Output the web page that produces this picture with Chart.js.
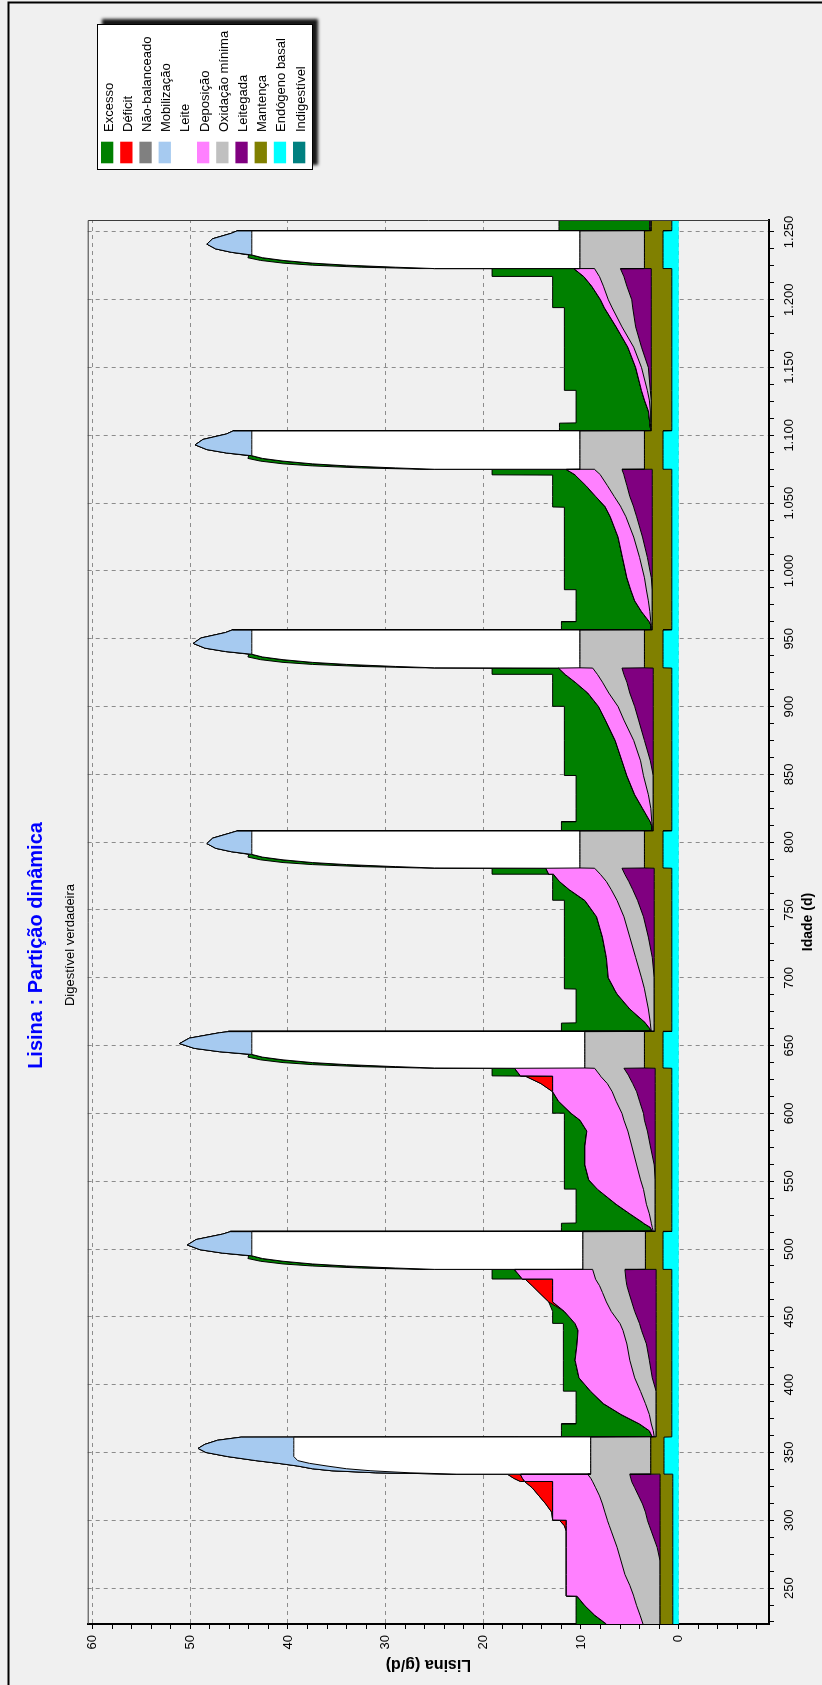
<!DOCTYPE html>
<html>
<head>
<meta charset="utf-8">
<title>Lisina : Partição dinâmica</title>
<script src="https://cdn.jsdelivr.net/npm/chart.js@4.4.1/dist/chart.umd.min.js"></script>
<style>
  html, body { margin: 0; padding: 0; background: #f0f0f0; overflow: hidden; width: 822px; height: 1685px; }
  /* the chart is laid out landscape and turned a quarter turn counter-clockwise */
  #painel { position: absolute; left: 0; top: 0; width: 1685px; height: 822px;
            transform-origin: 0 0; transform: translate(0, 1685px) rotate(-90deg); }
  canvas { display: block; }
</style>
</head>
<body>
<div id="painel"><canvas id="grafico" width="1685" height="822"></canvas></div>
<script>
// ---- Idade (d) ----
const idade = [
  // gestação 1 (leitoa)
  223.5, 230, 237, 244, 244.2, 252, 260, 270, 280, 292, 296, 300, 300.2, 306, 312, 318, 324, 328.4, 328.6, 331, 333.8,
  // lactação 1
  334, 335, 336.5, 338, 340, 342, 344, 347, 350, 353, 356, 359, 361.3,
  // gestação 2
  361.5, 366, 371, 371.2, 378, 386, 395, 395.2, 405, 418, 430, 440, 445, 445.2, 454, 461, 468, 473, 477.7, 477.9, 484.8,
  // lactação 2
  485, 486, 487.5, 489, 491, 493, 495, 497, 499.5, 503, 507, 511, 512.8,
  // gestação 3
  513, 516, 519, 519.2, 526, 533, 544, 544.2, 551, 562, 576, 587, 595, 600, 600.2, 609, 616, 622, 627.5, 627.7, 633.3,
  // lactação 3
  633.5, 634.5, 636, 637.5, 639.5, 641.5, 643.5, 645.5, 648, 651.5, 655.5, 659.5, 660.3,
  // gestação 4
  660.5, 663, 666.6, 666.8, 677, 688, 691.7, 691.9, 700, 715, 730, 745, 757, 757.2, 765, 771, 776.2, 776.4, 780.8,
  // lactação 4
  781, 782, 783.5, 785, 787, 789, 791, 793, 795.5, 799, 803, 807, 808.3,
  // gestação 5
  808.5, 812, 815, 815.2, 825, 835, 849, 849.2, 860, 875, 890, 900, 900.2, 910, 918, 923.6, 923.8, 928.4,
  // lactação 5
  928.6, 929.6, 931.1, 932.6, 934.6, 936.6, 938.6, 940.6, 943.1, 946.6, 950.6, 954.6, 956.5,
  // gestação 6
  956.7, 960, 962.5, 962.7, 970, 978, 986, 986.2, 995, 1010, 1025, 1040, 1047, 1047.2, 1055, 1063, 1070.7, 1070.9, 1074.8,
  // lactação 6
  1075, 1076, 1077.5, 1079, 1081, 1083, 1085, 1087, 1089.5, 1093, 1097, 1101, 1103.3,
  // gestação 7
  1103.5, 1106, 1109, 1109.2, 1118, 1126, 1133, 1133.2, 1150, 1165, 1180, 1194, 1194.2, 1200, 1210, 1217, 1217.2, 1222.8,
  // lactação 7
  1223, 1224, 1225.5, 1227, 1229, 1231, 1233, 1235, 1237.5, 1241, 1245, 1249, 1250.8,
  // pós-desmame
  1251, 1254, 1258.8
];

// ---- Lisina (g/d), one array per fraction, same order as idade ----
const endogenoBasal = [
  0.6,0.6,0.6,0.6,0.6,0.6,0.6,0.6,0.6,0.6,0.6,0.6,0.6,0.6,0.6,0.6,0.6,0.6,0.6,0.6,0.6,
  1.5,1.5,1.5,1.5,1.5,1.5,1.5,1.5,1.5,1.5,1.5,1.5,1.5,
  0.7,0.7,0.7,0.7,0.7,0.7,0.7,0.7,0.7,0.7,0.7,0.7,0.7,0.7,0.7,0.7,0.7,0.7,0.7,0.7,0.7,
  1.6,1.6,1.6,1.6,1.6,1.6,1.6,1.6,1.6,1.6,1.6,1.6,1.6,
  0.7,0.7,0.7,0.7,0.7,0.7,0.7,0.7,0.7,0.7,0.7,0.7,0.7,0.7,0.7,0.7,0.7,0.7,0.7,0.7,0.7,
  1.6,1.6,1.6,1.6,1.6,1.6,1.6,1.6,1.6,1.6,1.6,1.6,1.6,
  0.7,0.7,0.7,0.7,0.7,0.7,0.7,0.7,0.7,0.7,0.7,0.7,0.7,0.7,0.7,0.7,0.7,0.7,0.7,
  1.6,1.6,1.6,1.6,1.6,1.6,1.6,1.6,1.6,1.6,1.6,1.6,1.6,
  0.7,0.7,0.7,0.7,0.7,0.7,0.7,0.7,0.7,0.7,0.7,0.7,0.7,0.7,0.7,0.7,0.7,0.7,
  1.6,1.6,1.6,1.6,1.6,1.6,1.6,1.6,1.6,1.6,1.6,1.6,1.6,
  0.7,0.7,0.7,0.7,0.7,0.7,0.7,0.7,0.7,0.7,0.7,0.7,0.7,0.7,0.7,0.7,0.7,0.7,0.7,
  1.6,1.6,1.6,1.6,1.6,1.6,1.6,1.6,1.6,1.6,1.6,1.6,1.6,
  0.7,0.7,0.7,0.7,0.7,0.7,0.7,0.7,0.7,0.7,0.7,0.7,0.7,0.7,0.7,0.7,0.7,0.7,
  1.6,1.6,1.6,1.6,1.6,1.6,1.6,1.6,1.6,1.6,1.6,1.6,1.6,
  0.7,0.7,0.7
];

const mantenca = [
  1.3,1.3,1.3,1.3,1.3,1.3,1.3,1.3,1.3,1.3,1.3,1.3,1.3,1.3,1.3,1.3,1.3,1.3,1.3,1.3,1.3,
  1.35,1.35,1.35,1.35,1.35,1.35,1.35,1.35,1.35,1.35,1.35,1.35,1.35,
  1.6,1.6,1.6,1.6,1.6,1.6,1.6,1.6,1.6,1.6,1.6,1.6,1.6,1.6,1.6,1.6,1.6,1.6,1.6,1.6,1.6,
  1.8,1.8,1.8,1.8,1.8,1.8,1.8,1.8,1.8,1.8,1.8,1.8,1.8,
  1.7,1.7,1.7,1.7,1.7,1.7,1.7,1.7,1.7,1.7,1.7,1.7,1.7,1.7,1.7,1.7,1.7,1.7,1.7,1.7,1.7,
  1.9,1.9,1.9,1.9,1.9,1.9,1.9,1.9,1.9,1.9,1.9,1.9,1.9,
  1.8,1.8,1.8,1.8,1.8,1.8,1.8,1.8,1.8,1.8,1.8,1.8,1.8,1.8,1.8,1.8,1.8,1.8,1.8,
  1.9,1.9,1.9,1.9,1.9,1.9,1.9,1.9,1.9,1.9,1.9,1.9,1.9,
  1.9,1.9,1.9,1.9,1.9,1.9,1.9,1.9,1.9,1.9,1.9,1.9,1.9,1.9,1.9,1.9,1.9,1.9,
  1.9,1.9,1.9,1.9,1.9,1.9,1.9,1.9,1.9,1.9,1.9,1.9,1.9,
  2.0,2.0,2.0,2.0,2.0,2.0,2.0,2.0,2.0,2.0,2.0,2.0,2.0,2.0,2.0,2.0,2.0,2.0,2.0,
  1.9,1.9,1.9,1.9,1.9,1.9,1.9,1.9,1.9,1.9,1.9,1.9,1.9,
  2.1,2.1,2.1,2.1,2.1,2.1,2.1,2.1,2.1,2.1,2.1,2.1,2.1,2.1,2.1,2.1,2.1,2.1,
  1.9,1.9,1.9,1.9,1.9,1.9,1.9,1.9,1.9,1.9,1.9,1.9,1.9,
  2.1,2.1,2.1
];

const leitegada = [
  0,0,0,0,0,0,0,0,0.3,0.9,1.1,1.3,1.3,1.5,1.8,2.2,2.6,2.9,2.9,3.0,3.1,
  0,0,0,0,0,0,0,0,0,0,0,0,0,
  0,0,0,0,0,0,0,0,0.4,0.7,1.0,1.5,1.7,1.7,2.2,2.5,2.8,3.0,3.1,3.1,3.2,
  0,0,0,0,0,0,0,0,0,0,0,0,0,
  0,0,0,0,0,0,0,0,0,0.1,0.5,0.8,1.1,1.2,1.2,1.6,1.9,2.3,2.7,2.7,3.2,
  0,0,0,0,0,0,0,0,0,0,0,0,0,
  0,0,0,0,0,0,0,0,0,0.2,0.6,1.1,1.7,1.7,2.2,2.6,3.0,3.0,3.3,
  0,0,0,0,0,0,0,0,0,0,0,0,0,
  0,0,0,0,0,0,0,0,0.3,0.9,1.5,1.9,1.9,2.4,2.7,3.0,3.0,3.2,
  0,0,0,0,0,0,0,0,0,0,0,0,0,
  0,0,0,0,0,0,0,0,0.1,0.5,1.0,1.6,1.9,1.9,2.3,2.6,2.9,2.9,3.1,
  0,0,0,0,0,0,0,0,0,0,0,0,0,
  0,0,0,0,0,0,0.1,0.1,0.3,1.0,1.6,1.9,1.9,2.0,2.5,2.8,2.8,3.15,
  0,0,0,0,0,0,0,0,0,0,0,0,0,
  0,0,0
];

const oxidacaoMinima = [
  1.75,2.05,2.4,2.7,2.7,3.1,3.6,4.0,4.1,4.1,4.1,4.1,4.1,4.15,4.1,4.0,4.0,4.0,4.0,4.1,4.3,
  6.15,6.15,6.15,6.15,6.15,6.15,6.15,6.15,6.15,6.15,6.15,6.15,6.15,
  0.2,0.3,0.5,0.5,0.7,1.1,1.6,1.6,1.8,2.0,2.0,1.9,2.0,2.0,2.4,2.6,2.7,2.8,3.1,3.1,3.3,
  6.4,6.4,6.4,6.4,6.4,6.4,6.4,6.4,6.4,6.4,6.4,6.4,6.4,
  0.2,0.3,0.4,0.4,0.6,0.9,1.2,1.2,1.5,1.8,1.9,2.0,2.1,2.2,2.2,2.4,2.5,2.6,2.9,2.9,3.0,
  6.1,6.1,6.1,6.1,6.1,6.1,6.1,6.1,6.1,6.1,6.1,6.1,6.1,
  0.3,0.35,0.4,0.4,0.6,0.9,1.0,1.0,1.3,1.7,1.9,2.0,2.1,2.1,2.2,2.3,2.5,2.5,2.8,
  6.6,6.6,6.6,6.6,6.6,6.6,6.6,6.6,6.6,6.6,6.6,6.6,6.6,
  0.1,0.1,0.15,0.15,0.25,0.5,1.0,1.0,1.0,1.1,1.5,1.7,1.7,2.15,2.5,2.7,2.7,3.0,
  6.6,6.6,6.6,6.6,6.6,6.6,6.6,6.6,6.6,6.6,6.6,6.6,6.6,
  0.1,0.1,0.15,0.15,0.25,0.4,0.6,0.6,0.7,0.8,0.9,1.1,1.3,1.3,1.6,2.0,2.4,2.4,2.8,
  6.6,6.6,6.6,6.6,6.6,6.6,6.6,6.6,6.6,6.6,6.6,6.6,6.6,
  0.05,0.05,0.1,0.1,0.1,0.2,0.3,0.3,0.7,0.8,1.4,2.1,2.1,2.4,2.4,2.5,2.5,2.65,
  6.6,6.6,6.6,6.6,6.6,6.6,6.6,6.6,6.6,6.6,6.6,6.6,6.6,
  0.05,0.05,0.05
];

const deposicao = [
  3.75,4.65,5.3,5.8,6.9,6.5,6.0,5.6,5.2,4.6,4.4,4.2,5.6,5.35,5.1,4.8,4.4,4.1,6.95,7.0,6.9,
  0,0,0,0,0,0,0,0,0,0,0,0,0,
  0.2,0.4,1.2,1.2,2.9,4.3,5.1,5.1,5.7,5.6,5.1,4.6,4.6,4.6,4.8,5.5,5.1,4.8,4.4,7.5,8.0,
  0,0,0,0,0,0,0,0,0,0,0,0,0,
  0.1,0.2,0.8,0.8,2.0,3.1,4.7,4.7,5.3,5.3,4.8,4.2,4.5,5.2,5.2,5.9,6.1,5.6,4.9,8.2,8.2,
  0,0,0,0,0,0,0,0,0,0,0,0,0,
  0.0,0.15,0.5,0.5,1.9,2.9,3.1,3.1,3.4,3.0,2.8,2.8,3.3,3.3,4.3,4.8,4.8,5.3,5.0,
  0,0,0,0,0,0,0,0,0,0,0,0,0,
  0.0,0.05,0.15,0.15,0.85,1.4,1.7,1.7,1.9,1.9,1.9,2.0,2.0,2.15,2.8,3.3,3.3,3.5,
  0,0,0,0,0,0,0,0,0,0,0,0,0,
  0.0,0.05,0.15,0.15,0.85,1.4,1.6,1.6,1.8,1.75,1.6,1.6,1.6,1.6,1.9,2.2,2.6,2.6,2.9,
  0,0,0,0,0,0,0,0,0,0,0,0,0,
  0.0,0.05,0.05,0.05,0.2,0.5,0.6,0.6,0.6,0.6,0.6,0.8,0.8,0.8,1.2,1.6,1.6,2.1,
  0,0,0,0,0,0,0,0,0,0,0,0,0,
  0.05,0.1,0.1
];

const leite = [
  0,0,0,0,0,0,0,0,0,0,0,0,0,0,0,0,0,0,0,0,0,
  13.7,18.5,22.5,25.0,27.0,28.8,30.0,30.4,30.4,30.4,30.4,30.4,30.4,
  0,0,0,0,0,0,0,0,0,0,0,0,0,0,0,0,0,0,0,0,0,
  15.2,19.2,24.2,27.7,30.7,32.8,33.9,33.9,33.9,33.9,33.9,33.9,33.9,
  0,0,0,0,0,0,0,0,0,0,0,0,0,0,0,0,0,0,0,0,0,
  15.4,19.4,24.4,27.9,30.9,33.0,34.1,34.1,34.1,34.1,34.1,34.1,34.1,
  0,0,0,0,0,0,0,0,0,0,0,0,0,0,0,0,0,0,0,
  14.9,18.9,23.9,27.4,30.4,32.5,33.6,33.6,33.6,33.6,33.6,33.6,33.6,
  0,0,0,0,0,0,0,0,0,0,0,0,0,0,0,0,0,0,
  14.9,18.9,23.9,27.4,30.4,32.5,33.6,33.6,33.6,33.6,33.6,33.6,33.6,
  0,0,0,0,0,0,0,0,0,0,0,0,0,0,0,0,0,0,0,
  14.9,18.9,23.9,27.4,30.4,32.5,33.6,33.6,33.6,33.6,33.6,33.6,33.6,
  0,0,0,0,0,0,0,0,0,0,0,0,0,0,0,0,0,0,
  14.9,18.9,23.9,27.4,30.4,32.5,33.6,33.6,33.6,33.6,33.6,33.6,33.6,
  0,0,0
];

const mobilizacao = [
  0,0,0,0,0,0,0,0,0,0,0,0,0,0,0,0,0,0,0,0,0,
  0,3.5,4.0,3.5,3.0,3.2,4.3,6.8,9.0,9.8,9.1,7.8,5.4,
  0,0,0,0,0,0,0,0,0,0,0,0,0,0,0,0,0,0,0,0,0,
  0,0,0,0,0,0,0,3.0,5.3,6.6,5.7,3.0,2.2,
  0,0,0,0,0,0,0,0,0,0,0,0,0,0,0,0,0,0,0,0,0,
  0,0,0,0,0,0,0,3.3,5.9,7.4,6.4,3.3,2.4,
  0,0,0,0,0,0,0,0,0,0,0,0,0,0,0,0,0,0,0,
  0,0,0,0,0,0,0,2.1,3.7,4.6,4.0,2.1,1.5,
  0,0,0,0,0,0,0,0,0,0,0,0,0,0,0,0,0,0,
  0,0,0,0,0,0,0,2.7,4.8,6.0,5.2,2.7,2.0,
  0,0,0,0,0,0,0,0,0,0,0,0,0,0,0,0,0,0,0,
  0,0,0,0,0,0,0,2.6,4.6,5.8,5.0,2.6,1.9,
  0,0,0,0,0,0,0,0,0,0,0,0,0,0,0,0,0,0,
  0,0,0,0,0,0,0,2.1,3.7,4.6,4.0,2.1,1.5,
  0,0,0
];

const deficit = [
  0,0,0,0,0,0,0,0,0,0,0.2,0.7,0,0.1,0.7,1.4,2.1,2.85,0.45,0.9,1.3,
  0,0,0,0,0,0,0,0,0,0,0,0,0,
  0,0,0,0,0,0,0,0,0,0,0,0,0,0,0,0.4,1.4,2.1,2.8,0,0,
  0,0,0,0,0,0,0,0,0,0,0,0,0,
  0,0,0,0,0,0,0,0,0,0,0,0,0,0,0,0,0,1.2,2.8,0,0,
  0,0,0,0,0,0,0,0,0,0,0,0,0,
  0,0,0,0,0,0,0,0,0,0,0,0,0,0,0,0,0,0,0,
  0,0,0,0,0,0,0,0,0,0,0,0,0,
  0,0,0,0,0,0,0,0,0,0,0,0,0,0,0,0,0,0,
  0,0,0,0,0,0,0,0,0,0,0,0,0,
  0,0,0,0,0,0,0,0,0,0,0,0,0,0,0,0,0,0,0,
  0,0,0,0,0,0,0,0,0,0,0,0,0,
  0,0,0,0,0,0,0,0,0,0,0,0,0,0,0,0,0,0,
  0,0,0,0,0,0,0,0,0,0,0,0,0,
  0,0,0
];

const excesso = [
  3.1,1.9,0.9,0.1,0,0,0,0,0,0,0,0,0,0,0,0,0,0,0,0,0,
  0,0,0,0,0,0,0,0,0,0,0,0,0,
  9.3,9.0,8.0,6.5,4.6,2.8,1.5,2.8,1.6,1.2,1.4,1.5,1.2,2.3,1.2,0,0,0,0,3.1,2.3,
  1.5,3.5,3.5,3.0,2.3,1.5,0.3,0,0,0,0,0,0,
  9.3,9.1,8.4,6.9,5.5,4.1,2.2,3.4,2.5,2.1,2.1,2.3,1.6,0.7,1.9,0.6,0,0,0,2.9,2.3,
  1.5,3.5,3.5,3.0,2.3,1.5,0.3,0,0,0,0,0,0,
  9.2,9.0,8.6,7.1,5.5,4.2,3.9,5.1,4.5,4.3,3.9,3.3,2.1,3.3,1.7,0.7,0.1,5.8,5.5,
  1.5,3.5,3.5,3.0,2.3,1.5,0.3,0,0,0,0,0,0,
  9.3,9.25,9.1,7.6,6.8,6.0,5.2,6.4,5.9,5.2,4.2,3.5,4.7,3.6,2.3,1.3,7.5,6.8,
  1.5,3.5,3.5,3.0,2.3,1.5,0.3,0,0,0,0,0,0,
  9.2,9.15,9.0,7.5,6.7,6.0,5.6,6.8,6.4,5.95,5.5,4.7,4.2,5.4,4.4,3.4,2.3,8.5,7.6,
  1.5,3.5,3.5,3.0,2.3,1.5,0.3,0,0,0,0,0,0,
  9.35,9.3,9.25,7.55,7.4,7.0,6.7,7.9,7.3,6.5,5.3,4.1,5.3,4.9,4.0,3.2,9.4,8.4,
  1.5,3.5,3.5,3.0,2.3,1.5,0.3,0,0,0,0,0,0,
  9.35,9.3,9.3
];

// legend order (top of the stack first); null = no amount drawn in this run
const fracoes = [
  ['Excesso', excesso],
  ['Déficit', deficit],
  ['Não-balanceado', null],
  ['Mobilização', mobilizacao],
  ['Leite', leite],
  ['Deposição', deposicao],
  ['Oxidação mínima', oxidacaoMinima],
  ['Leitegada', leitegada],
  ['Mantença', mantenca],
  ['Endógeno basal', endogenoBasal],
  ['Indigestível', null]
];

const cores = {
  'Excesso': '#008000', 'Déficit': '#ff0000', 'Não-balanceado': '#808080',
  'Mobilização': '#a6caf0', 'Leite': '#ffffff', 'Deposição': '#ff80ff',
  'Oxidação mínima': '#c0c0c0', 'Leitegada': '#800080', 'Mantença': '#808000',
  'Endógeno basal': '#00ffff', 'Indigestível': '#008080'
};

const titulo = 'Lisina : Partição dinâmica';
const subtitulo = 'Digestível verdadeira';
const fonte = "'Liberation Sans', Arial, Helvetica, sans-serif";

// stack is built bottom-up (reverse of the legend)
const datasets = fracoes.slice().reverse()
  .filter(([, valores]) => valores !== null)
  .map(([nome, valores], i) => ({
    label: nome,
    data: idade.map((d, k) => ({ x: d, y: valores[k] })),
    backgroundColor: cores[nome],
    borderColor: '#000000',
    borderWidth: 1,
    borderJoinStyle: 'round',
    pointRadius: 0,
    pointHoverRadius: 0,
    tension: 0,
    fill: i === 0 ? 'origin' : '-1'
  }));

function milhar(v) {
  if (v >= 1000) return Math.floor(v / 1000) + '.' + String(v % 1000).padStart(3, '0');
  return String(v);
}

const decoracao = {
  id: 'decoracao',
  beforeDraw(chart) {
    const c = chart.ctx;
    c.save();
    c.fillStyle = '#f0f0f0';
    c.fillRect(0, 0, chart.width, chart.height);
    c.restore();
  },
  afterDraw(chart) {
    const c = chart.ctx;
    const a = chart.chartArea;
    c.save();

    // thin frame on the two free sides of the plot
    c.strokeStyle = '#3c3c3c';
    c.lineWidth = 1;
    c.beginPath();
    c.moveTo(a.left, a.top + 0.5);
    c.lineTo(a.right - 0.5, a.top + 0.5);
    c.lineTo(a.right - 0.5, a.bottom);
    c.stroke();

    // outer window frame
    c.strokeStyle = '#000';
    c.lineWidth = 2;
    c.beginPath();
    c.moveTo(0, 8.5);
    c.lineTo(1682.5, 8.5);
    c.lineTo(1682.5, chart.height);
    c.stroke();

    // title and subtitle
    c.textAlign = 'center';
    c.textBaseline = 'alphabetic';
    c.fillStyle = '#0000ff';
    c.font = 'bold 20px ' + fonte;
    c.fillText(titulo, 739.5, 42);
    c.fillStyle = '#000';
    c.font = '13px ' + fonte;
    c.fillText(subtitulo, 740, 74);

    // legend box with drop shadow
    const bx = 1515, by = 97, bw = 146, bh = 216;
    c.save();
    c.shadowColor = 'rgba(0,0,0,0.9)';
    c.shadowBlur = 3;
    c.shadowOffsetX = 5;
    c.shadowOffsetY = 5;
    c.fillStyle = '#ffffff';
    c.fillRect(bx, by, bw, bh);
    c.restore();
    c.strokeStyle = '#000';
    c.lineWidth = 1;
    c.strokeRect(bx + 0.5, by + 0.5, bw - 1, bh - 1);

    c.textAlign = 'left';
    c.font = '13px ' + fonte;
    fracoes.forEach(([nome], i) => {
      const y = 101 + 19.2 * i;
      c.fillStyle = cores[nome];
      c.fillRect(1521.7, y, 21.6, 12.3);
      c.fillStyle = '#000';
      c.fillText(nome, 1553, y + 11.6);
    });
    c.restore();
  }
};

Chart.defaults.font.family = fonte;
Chart.defaults.color = '#000';

new Chart(document.getElementById('grafico'), {
  type: 'line',
  data: { datasets },
  plugins: [decoracao],
  options: {
    responsive: false,
    animation: false,
    devicePixelRatio: 1,
    events: [],
    layout: { padding: { top: 87.7, right: 220, bottom: 0, left: 0 } },
    plugins: {
      legend: { display: false },
      tooltip: { enabled: false },
      title: { display: false },
      filler: { propagate: false }
    },
    scales: {
      x: {
        type: 'linear',
        min: 223.5,
        max: 1258.8,
        afterBuildTicks: (s) => {
          const t = [];
          for (let v = 225; v <= 1250; v += 12.5) t.push({ value: v });
          s.ticks = t;
        },
        afterFit: (s) => { s.height = 53; },
        ticks: {
          autoSkip: false, maxRotation: 0, minRotation: 0, padding: 8,
          color: '#000', font: { size: 13 },
          callback: (v) => (v % 50 === 0 ? milhar(v) : '')
        },
        grid: {
          color: (ctx) => (ctx.tick && ctx.tick.value % 50 === 0 ? '#8c8c8c' : 'rgba(0,0,0,0)'),
          lineWidth: 1, tickLength: 5, tickColor: '#000', tickWidth: 1, tickBorderDash: []
        },
        border: { display: true, color: '#000', width: 2, dash: [4, 4] },
        title: {
          display: true, text: 'Idade (d)', color: '#000',
          font: { size: 14, weight: 'bold' }, padding: { top: 0, bottom: 5 }
        }
      },
      y: {
        type: 'linear',
        stacked: true,
        min: -9.25,
        max: 60.5,
        afterBuildTicks: (s) => {
          const t = [];
          for (let v = -8; v <= 60; v += 2) t.push({ value: v });
          s.ticks = t;
        },
        afterFit: (s) => { s.width = 61; },
        ticks: {
          autoSkip: false, padding: 6, color: '#000', font: { size: 13 },
          callback: (v) => (v % 10 === 0 && v >= 0 ? String(v) : '')
        },
        grid: {
          color: (ctx) => (ctx.tick && ctx.tick.value % 10 === 0 ? '#8c8c8c' : 'rgba(0,0,0,0)'),
          lineWidth: 1, tickLength: 5, tickColor: '#000', tickWidth: 1, tickBorderDash: []
        },
        border: { display: true, color: '#000', width: 2, dash: [4, 4] },
        title: {
          display: true, text: 'Lisina (g/d)', color: '#000',
          font: { size: 16, weight: 'bold' }, padding: { top: 11, bottom: 0 }
        }
      }
    }
  }
});
</script>
</body>
</html>
